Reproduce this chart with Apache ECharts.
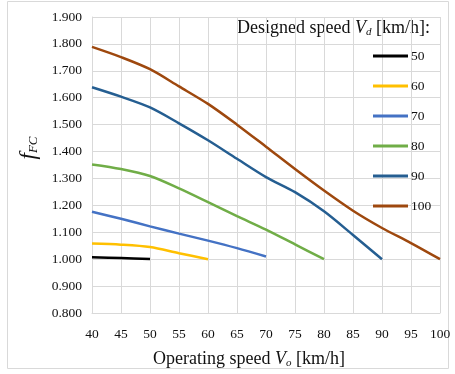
<!DOCTYPE html>
<html>
<head>
<meta charset="utf-8">
<script src="https://cdn.jsdelivr.net/npm/echarts@6/dist/echarts.min.js"></script>
<style>
html,body{margin:0;padding:0;background:#fff;}
#chart{width:455px;height:374px;}
</style>
</head>
<body>
<div id="chart"></div>
<script>
// operating speed Vo [km/h]
var speeds = [40, 45, 50, 55, 60, 65, 70, 75, 80, 85, 90, 95, 100];
// fFC per designed speed Vd
var vd50  = [1.007, 1.004, 1.001];
var vd60  = [1.058, 1.054, 1.045, 1.022, 1.000];
var vd70  = [1.176, 1.150, 1.122, 1.095, 1.069, 1.041, 1.010];
var vd80  = [1.352, 1.335, 1.309, 1.263, 1.212, 1.160, 1.110, 1.055, 1.000];
var vd90  = [1.639, 1.604, 1.564, 1.505, 1.442, 1.373, 1.305, 1.249, 1.178, 1.090, 1.000];
var vd100 = [1.789, 1.751, 1.706, 1.642, 1.577, 1.500, 1.418, 1.335, 1.255, 1.180, 1.116, 1.060, 1.000];
var names = ['50', '60', '70', '80', '90', '100'];
var colors = ['#000000', '#ffc000', '#4472c4', '#70ad47', '#255e91', '#9e480e'];

var font = "'Liberation Serif', 'Times New Roman', serif";
var all = [vd50, vd60, vd70, vd80, vd90, vd100];

var series = all.map(function (vals, i) {
    return {
        name: names[i],
        type: 'line',
        smooth: 0.3,
        symbol: 'none',
        data: vals.map(function (v, j) { return [speeds[j], v]; }),
        lineStyle: {color: colors[i], width: 2.5},
        itemStyle: {color: colors[i]}
    };
});

var rich = {
    it: {fontFamily: font, fontSize: 18, fontStyle: 'italic', color: '#111'},
    sub: {fontFamily: font, fontSize: 11, fontStyle: 'italic', color: '#111', padding: [8, 0, 0, 0]}
};

var chart = echarts.init(document.getElementById('chart'));
chart.setOption({
    animation: false,
    textStyle: {fontFamily: font},
    grid: {left: 92, right: 15, top: 17, bottom: 61},
    legend: {
        orient: 'vertical',
        left: 373,
        top: 49,
        padding: 0,
        icon: 'rect',
        itemWidth: 35,
        itemHeight: 3,
        itemGap: 16,
        textStyle: {fontFamily: font, fontSize: 13.5, lineHeight: 14, color: '#111', padding: [0, 0, 0, -2]},
        data: names
    },
    xAxis: {
        type: 'value',
        min: 40, max: 100, interval: 5,
        axisLine: {lineStyle: {color: '#d9d9d9'}},
        axisTick: {show: false},
        axisLabel: {fontFamily: font, fontSize: 13.5, color: '#111', margin: 14},
        splitLine: {show: true, lineStyle: {color: '#d9d9d9', width: 1}}
    },
    yAxis: {
        type: 'value',
        min: 0.8, max: 1.9, interval: 0.1,
        axisLine: {show: true, lineStyle: {color: '#d9d9d9'}},
        axisTick: {show: false},
        axisLabel: {
            fontFamily: font, fontSize: 13.5, color: '#111', margin: 10,
            formatter: function (v) { return v.toFixed(3); }
        },
        splitLine: {show: true, lineStyle: {color: '#d9d9d9', width: 1}}
    },
    graphic: [{
        type: 'rect',
        silent: true,
        shape: {x: 7.5, y: 1.5, width: 441, height: 367},
        style: {fill: 'none', stroke: '#d9d9d9', lineWidth: 1}
    }, {
        // legend heading
        type: 'text',
        silent: true,
        x: 237, y: 28,
        style: {
            text: 'Designed speed {it|V}{sub|d} [km/h]:',
            font: '18px ' + font, fill: '#111',
            verticalAlign: 'middle',
            rich: rich
        }
    }, {
        type: 'text',
        silent: true,
        x: 249, y: 359,
        style: {
            text: 'Operating speed {it|V}{sub|o} [km/h]',
            font: '18px ' + font, fill: '#111',
            align: 'center', verticalAlign: 'middle',
            rich: rich
        }
    }, {
        type: 'text',
        silent: true,
        x: 29, y: 148,
        rotation: Math.PI / 2,
        style: {
            text: '{f|f}{s|FC}',
            align: 'center', verticalAlign: 'middle',
            rich: {
                f: {fontFamily: font, fontSize: 23, fontStyle: 'italic', fill: '#111'},
                s: {fontFamily: font, fontSize: 13, fontStyle: 'italic', fill: '#111', padding: [10, 0, 0, 0]}
            }
        }
    }],
    series: series
});
</script>
</body>
</html>
